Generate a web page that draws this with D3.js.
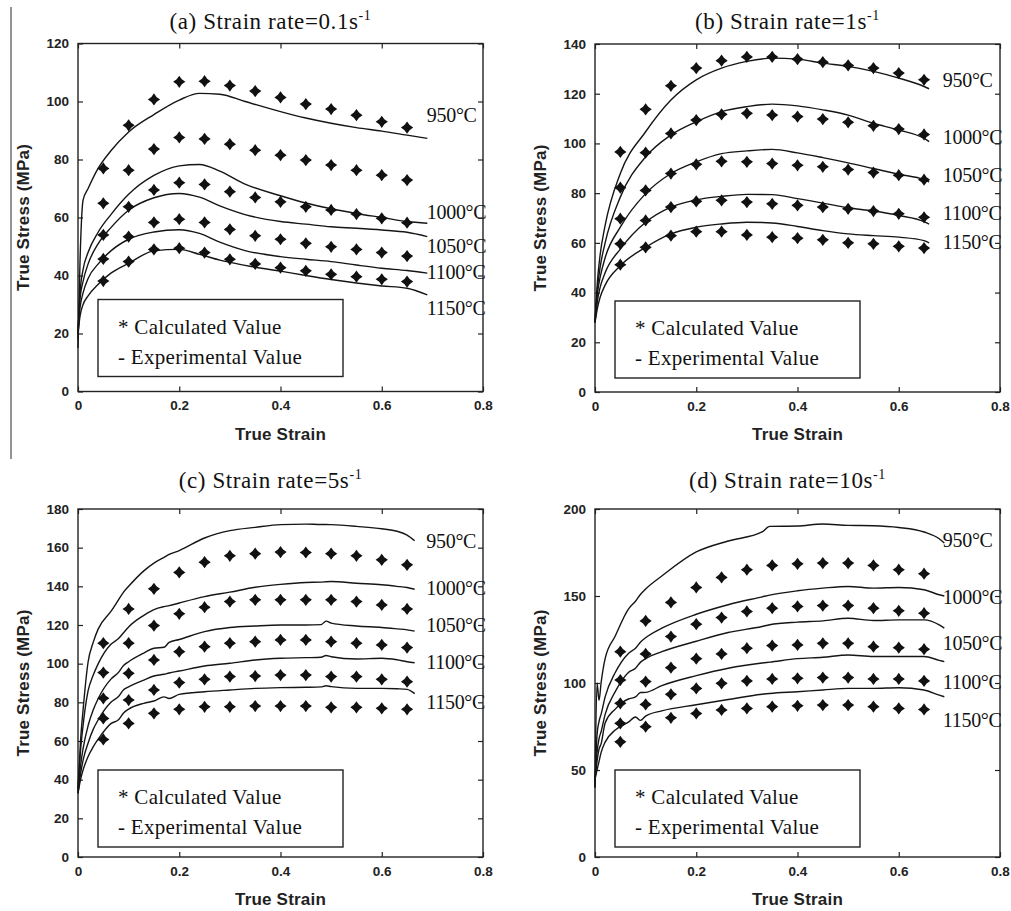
<!DOCTYPE html>
<html lang="en">
<head>
  <meta charset="UTF-8">
  <title>Flow stress curves - D3.js</title>
  <script src="https://d3js.org/d3.v7.min.js"></script>
  <style>
    body {
      margin: 0;
      background: #fff;
    }
    svg text {
      fill: #111;
    }
    .tick-label {
      font-family: "Liberation Sans", Arial, sans-serif;
      font-size: 13.5px;
      font-weight: bold;
      fill: #222;
    }
    .axis-title {
      font-family: "Liberation Sans", Arial, sans-serif;
      font-size: 17px;
      font-weight: bold;
      letter-spacing: 0.2px;
      fill: #222;
    }
    .serif {
      font-family: "Liberation Serif", "Times New Roman", serif;
    }
  </style>
</head>
<body>
  <div id="chart"></div>
  <script>
    // ---- data ----
    const temps = ["950°C", "1000°C", "1050°C", "1100°C", "1150°C"];
    const strainTicks = [0, 0.2, 0.4, 0.6, 0.8];
    const calcStrain = [0.05, 0.1, 0.15, 0.2, 0.25, 0.3, 0.35, 0.4, 0.45, 0.5, 0.55, 0.6, 0.65];

    // (a) 0.1 s-1
    const aStressTicks = [0, 20, 40, 60, 80, 100, 120];
    const aCalc = [
      [76.9, 91.8, 100.7, 106.8, 107, 105.5, 103.6, 101.4, 99.1, 97.4, 95.3, 93.0, 91.0],
      [64.9, 76.3, 83.6, 87.6, 87.1, 85.3, 83.2, 81.5, 79.8, 78.1, 76.3, 74.6, 72.9],
      [54, 63.7, 69.5, 72, 71.4, 68.9, 66.9, 65.4, 63.7, 62.6, 61.2, 59.7, 58.2],
      [45.7, 53.4, 58.3, 59.4, 58.3, 55.9, 53.7, 52.5, 51.1, 49.9, 49.0, 47.9, 46.7],
      [38.1, 44.8, 49, 49.4, 47.9, 45.6, 44.0, 42.7, 41.6, 40.4, 39.6, 38.7, 37.9]
    ];
    const aExpStrain = [0, 0.004, 0.01, 0.02, 0.04, 0.065, 0.1, 0.15, 0.2, 0.24, 0.28, 0.33, 0.4, 0.45, 0.5, 0.55, 0.6, 0.65, 0.69];
    const aExp = [
      [15, 45, 66, 70, 77, 83, 89.5, 95.5, 100.5, 102.8, 102.5, 100, 96.5, 94.3, 92.5, 91, 89.8, 88.4, 87.3],
      [18, 34, 42, 48, 55, 61, 68, 74.5, 77.8, 78.3, 76, 71.5, 67.5, 65, 63, 61.4, 60, 58.6, 58],
      [20, 32, 38, 44, 51, 56.5, 62.5, 66.8, 68.3, 67, 64, 61, 58.6, 57.7, 56.8, 56.3, 55.7, 54.9, 53.4],
      [22, 29, 34, 39, 44, 48.5, 52.5, 55, 55.8, 54.5, 51.5, 48.6, 46.5, 45.6, 44.8, 43.6, 42.5, 41.7, 40.8],
      [20, 26, 30, 33, 37, 40.8, 44.2, 48.5, 49, 47.3, 45.3, 43.5, 41.5, 40, 38.6, 37.4, 36.4, 35.6, 33.3]
    ];

    // (b) 1 s-1
    const bStressTicks = [0, 20, 40, 60, 80, 100, 120, 140];
    const bCalc = [
      [96.6, 113.7, 123.2, 130.3, 133.3, 134.8, 134.8, 133.9, 132.7, 131.4, 130.3, 128.3, 125.6],
      [82.2, 96.3, 104, 109.4, 111.7, 112.1, 111.4, 110.8, 109.8, 108.5, 107.1, 105.8, 103.6],
      [69.7, 81.1, 87.9, 91.6, 92.8, 92.6, 91.9, 91.2, 90.6, 89.5, 88.3, 87.2, 85.4],
      [59.6, 69, 74.4, 76.7, 77.1, 76.4, 75.7, 75.1, 74.4, 73.7, 72.8, 71.7, 70.3],
      [51.2, 58.2, 62.9, 64.5, 64.5, 63.2, 62.3, 61.9, 61.2, 60, 59.6, 58.6, 57.9]
    ];
    const bExpStrain = [0, 0.005, 0.01, 0.02, 0.05, 0.1, 0.15, 0.2, 0.25, 0.3, 0.35, 0.4, 0.45, 0.5, 0.55, 0.6, 0.65, 0.66];
    const bExp = [
      [28, 45, 55, 67, 87.9, 104.7, 117.5, 125.6, 130.3, 133, 134.3, 133.9, 132.3, 131, 129, 126.3, 122.9, 122],
      [28, 42, 50, 60, 78.4, 94.6, 103.4, 108.7, 112.8, 114.8, 115.8, 115.1, 113.5, 111.4, 108.1, 105.4, 102, 100.7],
      [28, 40, 46, 54, 66.3, 79.8, 87.9, 92.6, 95.9, 97, 97.6, 96.2, 94.3, 92.2, 89.9, 87.6, 85.4, 84.5],
      [28, 37, 42, 48, 57.5, 68.3, 74.4, 77.3, 78.7, 79.5, 79.4, 77.8, 76, 74.1, 72.8, 71, 68.5, 67.5],
      [28, 34, 38, 43, 50.8, 58.2, 63.6, 66.3, 67.6, 68.3, 68, 66.6, 64.9, 63.6, 62.9, 62.3, 60.9, 60]
    ];

    // (c) 5 s-1
    const cStressTicks = [0, 20, 40, 60, 80, 100, 120, 140, 160, 180];
    const cCalc = [
      [110.6, 128.3, 138.7, 147.2, 152.5, 155.8, 156.9, 157.7, 157.5, 156.9, 155.8, 153.7, 151.1],
      [95.4, 110.6, 119.7, 125.8, 129.2, 132.1, 133, 133, 133, 133, 132.1, 130.4, 128.3],
      [82.1, 95, 101.9, 106.2, 108.8, 110.6, 111.4, 112.3, 112.3, 111.4, 110.6, 109.7, 108.3],
      [71.7, 81.2, 86.4, 90.2, 91.9, 93.3, 93.6, 94.1, 94.1, 93.3, 93.3, 91.9, 90.7],
      [60.8, 69.1, 74.3, 76.4, 77.7, 77.7, 78.1, 78.1, 78.1, 77.4, 77.4, 76.9, 76.4]
    ];
    const cExpStrain = [0, 0.005, 0.01, 0.02, 0.03, 0.04, 0.065, 0.08, 0.09, 0.1, 0.13, 0.15, 0.17, 0.18, 0.2, 0.25, 0.3, 0.35, 0.4, 0.45, 0.48, 0.49, 0.5, 0.55, 0.6, 0.63, 0.65, 0.665];
    const cExp = [
      [35, 60, 76, 101, 111, 118, 127, 133, 137, 140, 148, 152, 155, 156.5, 158.5, 165, 168.8, 170.5, 171.9, 172.2, 172, 172, 171.9, 171, 169.8, 168.5, 166.5, 163.6],
      [35, 55, 68, 86, 94, 100, 110, 113, 116, 119, 125, 128, 129.5, 130, 131.4, 134.7, 137, 139.5, 141, 142, 142.2, 142.4, 142.5, 141.6, 140.8, 140, 139.4, 138.5],
      [33, 47, 56, 68, 76, 82, 92, 95.5, 99, 101, 105.5, 108, 108.5, 111, 112.5, 116.6, 118.7, 119.5, 120, 120, 120.2, 122, 121, 119.5, 118.7, 118, 117.5, 116.8],
      [33, 43, 50, 59, 66, 71, 80, 83, 86.5, 88, 91.5, 93.6, 94.5, 95.2, 96.2, 98.8, 100.2, 101.9, 102.8, 103.1, 103.3, 104.2, 103.6, 102.4, 102.8, 102, 101, 100.5],
      [33, 40, 45, 52, 57, 61, 69, 71, 74.5, 76.5, 79.5, 80.7, 82.8, 82, 84.1, 85.5, 86.4, 87.2, 87.6, 87.8, 88, 88.6, 88.1, 87.2, 87.2, 87, 86.7, 84.5]
    ];

    // (d) 10 s-1
    const dStressTicks = [0, 50, 100, 150, 200];
    const dCalc = [
      [118, 135.7, 146.3, 154.9, 160.7, 165.1, 167.6, 168.5, 168.9, 168.9, 167.6, 165.1, 162.8],
      [101.7, 116.7, 126.7, 133.8, 137.6, 141.1, 143, 144, 144.5, 144.5, 143, 141.5, 140.1],
      [88.3, 100.8, 108.8, 114, 116.7, 120, 121.5, 121.9, 122.8, 122.8, 120.9, 120.3, 119.4],
      [76.8, 87.7, 93.5, 96.9, 99.8, 101.2, 102.3, 102.7, 103.1, 103.1, 102.3, 102.3, 101.2],
      [66.2, 74.9, 80, 82.5, 84.5, 85.4, 86.4, 86.9, 87.3, 87.3, 86.4, 85.4, 84.8]
    ];
    const dExpStrain = [0, 0.004, 0.008, 0.012, 0.02, 0.04, 0.066, 0.08, 0.09, 0.1, 0.132, 0.2, 0.263, 0.33, 0.345, 0.4, 0.45, 0.5, 0.55, 0.6, 0.65, 0.68, 0.69];
    const dExp = [
      [40, 100, 90, 100, 114, 127, 142.5, 147, 151, 154, 161.5, 175.3, 181.6, 186.8, 190, 190.2, 191.4, 190.6, 190.4, 189.4, 186.8, 182.9, 180.4],
      [40, 70, 78, 82, 92, 106, 117, 120, 123.5, 126, 131.5, 139.5, 145, 149.5, 150.5, 153, 154.5, 155.5, 154.5, 154.9, 153.6, 150.7, 150],
      [42, 60, 68, 72, 82, 95, 106, 108.5, 112, 114, 118, 124, 129, 132.5, 133.5, 135, 135.7, 137.2, 135.9, 136.3, 136.3, 133.4, 131.5],
      [45, 55, 62, 65, 77, 85, 90.8, 92, 94.5, 94.6, 98.5, 104.2, 108.5, 111.5, 112, 114, 114.8, 116.1, 115.2, 115.2, 115.2, 113, 112.3],
      [45, 50, 55, 60, 66, 73, 77.5, 80.5, 78.5, 81, 84, 87.5, 90.5, 93.5, 94, 95, 96, 96.9, 96.9, 97.3, 96, 93, 92.1]
    ];

    // ---- layout ----
    const W = 1011, H = 911;
    const plotW = 405, plotH = 348;

    const panels = [
      { letter: "a", rate: "0.1", left: 78, top: 43.5, titleY: 29, legendGap: 15,
        ticks: aStressTicks, calc: aCalc, expStrain: aExpStrain, exp: aExp,
        labelX: 0.689, labelY: [95.3, 61.9, 50.2, 41.2, 28.8] },
      { letter: "b", rate: "1", left: 595, top: 44, titleY: 29, legendGap: 14,
        ticks: bStressTicks, calc: bCalc, expStrain: bExpStrain, exp: bExp,
        labelX: 0.687, labelY: [125.5, 102.5, 87.1, 72.2, 60.5] },
      { letter: "c", rate: "5", left: 78, top: 509, titleY: 488, legendGap: 10,
        ticks: cStressTicks, calc: cCalc, expStrain: cExpStrain, exp: cExp,
        labelX: 0.688, labelY: [163.5, 139.2, 120, 100.9, 80.2] },
      { letter: "d", rate: "10", left: 595, top: 509, titleY: 488, legendGap: 10,
        ticks: dStressTicks, calc: dCalc, expStrain: dExpStrain, exp: dExp,
        labelX: 0.687, labelY: [182.2, 149.4, 123, 100.6, 78.7] }
    ];

    // four-pointed star marker
    const star4 = {
      draw(ctx, size) {
        const r = Math.sqrt(size) / 2, w = r * 0.42;
        ctx.moveTo(0, -r);
        ctx.lineTo(w, -w);
        ctx.lineTo(r, 0);
        ctx.lineTo(w, w);
        ctx.lineTo(0, r);
        ctx.lineTo(-w, w);
        ctx.lineTo(-r, 0);
        ctx.lineTo(-w, -w);
        ctx.closePath();
      }
    };

    const svg = d3.select("#chart")
      .append("svg")
      .attr("width", W)
      .attr("height", H);

    // scanned page edge on the left
    svg.append("line")
      .attr("x1", 11).attr("x2", 11)
      .attr("y1", 7).attr("y2", 459)
      .attr("stroke", "#666")
      .attr("stroke-width", 1.4);

    panels.forEach(p => {
      const g = svg.append("g").attr("transform", `translate(${p.left},${p.top})`);

      const x = d3.scaleLinear().domain([0, 0.8]).range([0, plotW]);
      const y = d3.scaleLinear().domain([0, d3.max(p.ticks)]).range([plotH, 0]);

      // title
      const title = svg.append("text")
        .attr("class", "serif")
        .attr("x", p.left + plotW / 2 - 10)
        .attr("y", p.titleY)
        .attr("text-anchor", "middle")
        .style("font-size", "23px")
        .style("letter-spacing", "0.6px");
      title.append("tspan").text(`(${p.letter}) Strain rate=${p.rate}s`);
      title.append("tspan")
        .attr("dy", -9)
        .style("font-size", "14px")
        .text("-1");

      // axes with inward ticks on all four sides
      const tickLen = 5;
      g.append("g")
        .attr("transform", `translate(0,${plotH})`)
        .call(d3.axisBottom(x).tickValues(strainTicks).tickSizeInner(-tickLen).tickSizeOuter(0)
          .tickPadding(9).tickFormat(d => d === 0 ? "0" : d3.format(".1f")(d)));
      g.append("g")
        .call(d3.axisTop(x).tickValues(strainTicks).tickSizeInner(-tickLen).tickSizeOuter(0).tickFormat(""));
      g.append("g")
        .call(d3.axisLeft(y).tickValues(p.ticks).tickSizeInner(-tickLen).tickSizeOuter(0).tickPadding(9));
      g.append("g")
        .attr("transform", `translate(${plotW},0)`)
        .call(d3.axisRight(y).tickValues(p.ticks).tickSizeInner(-tickLen).tickSizeOuter(0).tickFormat(""));

      g.selectAll(".domain").remove();
      g.selectAll(".tick line").attr("stroke", "#222").attr("stroke-width", 1.2);
      g.selectAll(".tick text")
        .attr("class", "tick-label")
        .attr("fill", null)
        .style("font-family", null)
        .style("font-size", null);
      g.selectAll("g").attr("font-family", null).attr("font-size", null);

      g.append("rect")
        .attr("width", plotW)
        .attr("height", plotH)
        .attr("fill", "none")
        .attr("stroke", "#222")
        .attr("stroke-width", 1.4);

      // experimental curves
      const line = d3.line()
        .x(d => x(d[0]))
        .y(d => y(d[1]))
        .curve(d3.curveMonotoneX);

      p.exp.forEach(series => {
        g.append("path")
          .datum(p.expStrain.map((s, i) => [s, series[i]]))
          .attr("d", line)
          .attr("fill", "none")
          .attr("stroke", "#151515")
          .attr("stroke-width", 1.4);
      });

      // calculated points
      const sym = d3.symbol().type(star4).size(150);
      p.calc.forEach(series => {
        g.selectAll(null)
          .data(calcStrain.map((s, i) => [s, series[i]]))
          .enter()
          .append("path")
          .attr("d", sym)
          .attr("transform", d => `translate(${x(d[0])},${y(d[1])})`)
          .attr("fill", "#111");
      });

      // temperature labels
      g.selectAll(null)
        .data(temps)
        .enter()
        .append("text")
        .attr("class", "serif")
        .attr("x", x(p.labelX))
        .attr("y", (d, i) => y(p.labelY[i]))
        .attr("dy", "0.35em")
        .style("font-size", "20px")
        .style("letter-spacing", "-0.3px")
        .text(d => d);

      // legend box
      const lg = g.append("g")
        .attr("transform", `translate(20,${plotH - p.legendGap - 77})`);
      lg.append("rect")
        .attr("width", 245)
        .attr("height", 77)
        .attr("fill", "#fff")
        .attr("stroke", "#222")
        .attr("stroke-width", 1.4);
      lg.append("text")
        .attr("class", "serif")
        .attr("x", 20)
        .attr("y", 34)
        .style("font-size", "21px")
        .style("letter-spacing", "0.3px")
        .text("* Calculated Value");
      lg.append("text")
        .attr("class", "serif")
        .attr("x", 20)
        .attr("y", 64)
        .style("font-size", "21px")
        .style("letter-spacing", "0.3px")
        .text("- Experimental Value");

      // axis titles
      g.append("text")
        .attr("class", "axis-title")
        .attr("x", plotW / 2)
        .attr("y", plotH + 48)
        .attr("text-anchor", "middle")
        .text("True Strain");
      g.append("text")
        .attr("class", "axis-title")
        .attr("transform", `translate(-55,${plotH / 2}) rotate(-90)`)
        .attr("text-anchor", "middle")
        .attr("dy", "0.35em")
        .text("True Stress (MPa)");
    });
  </script>
</body>
</html>
